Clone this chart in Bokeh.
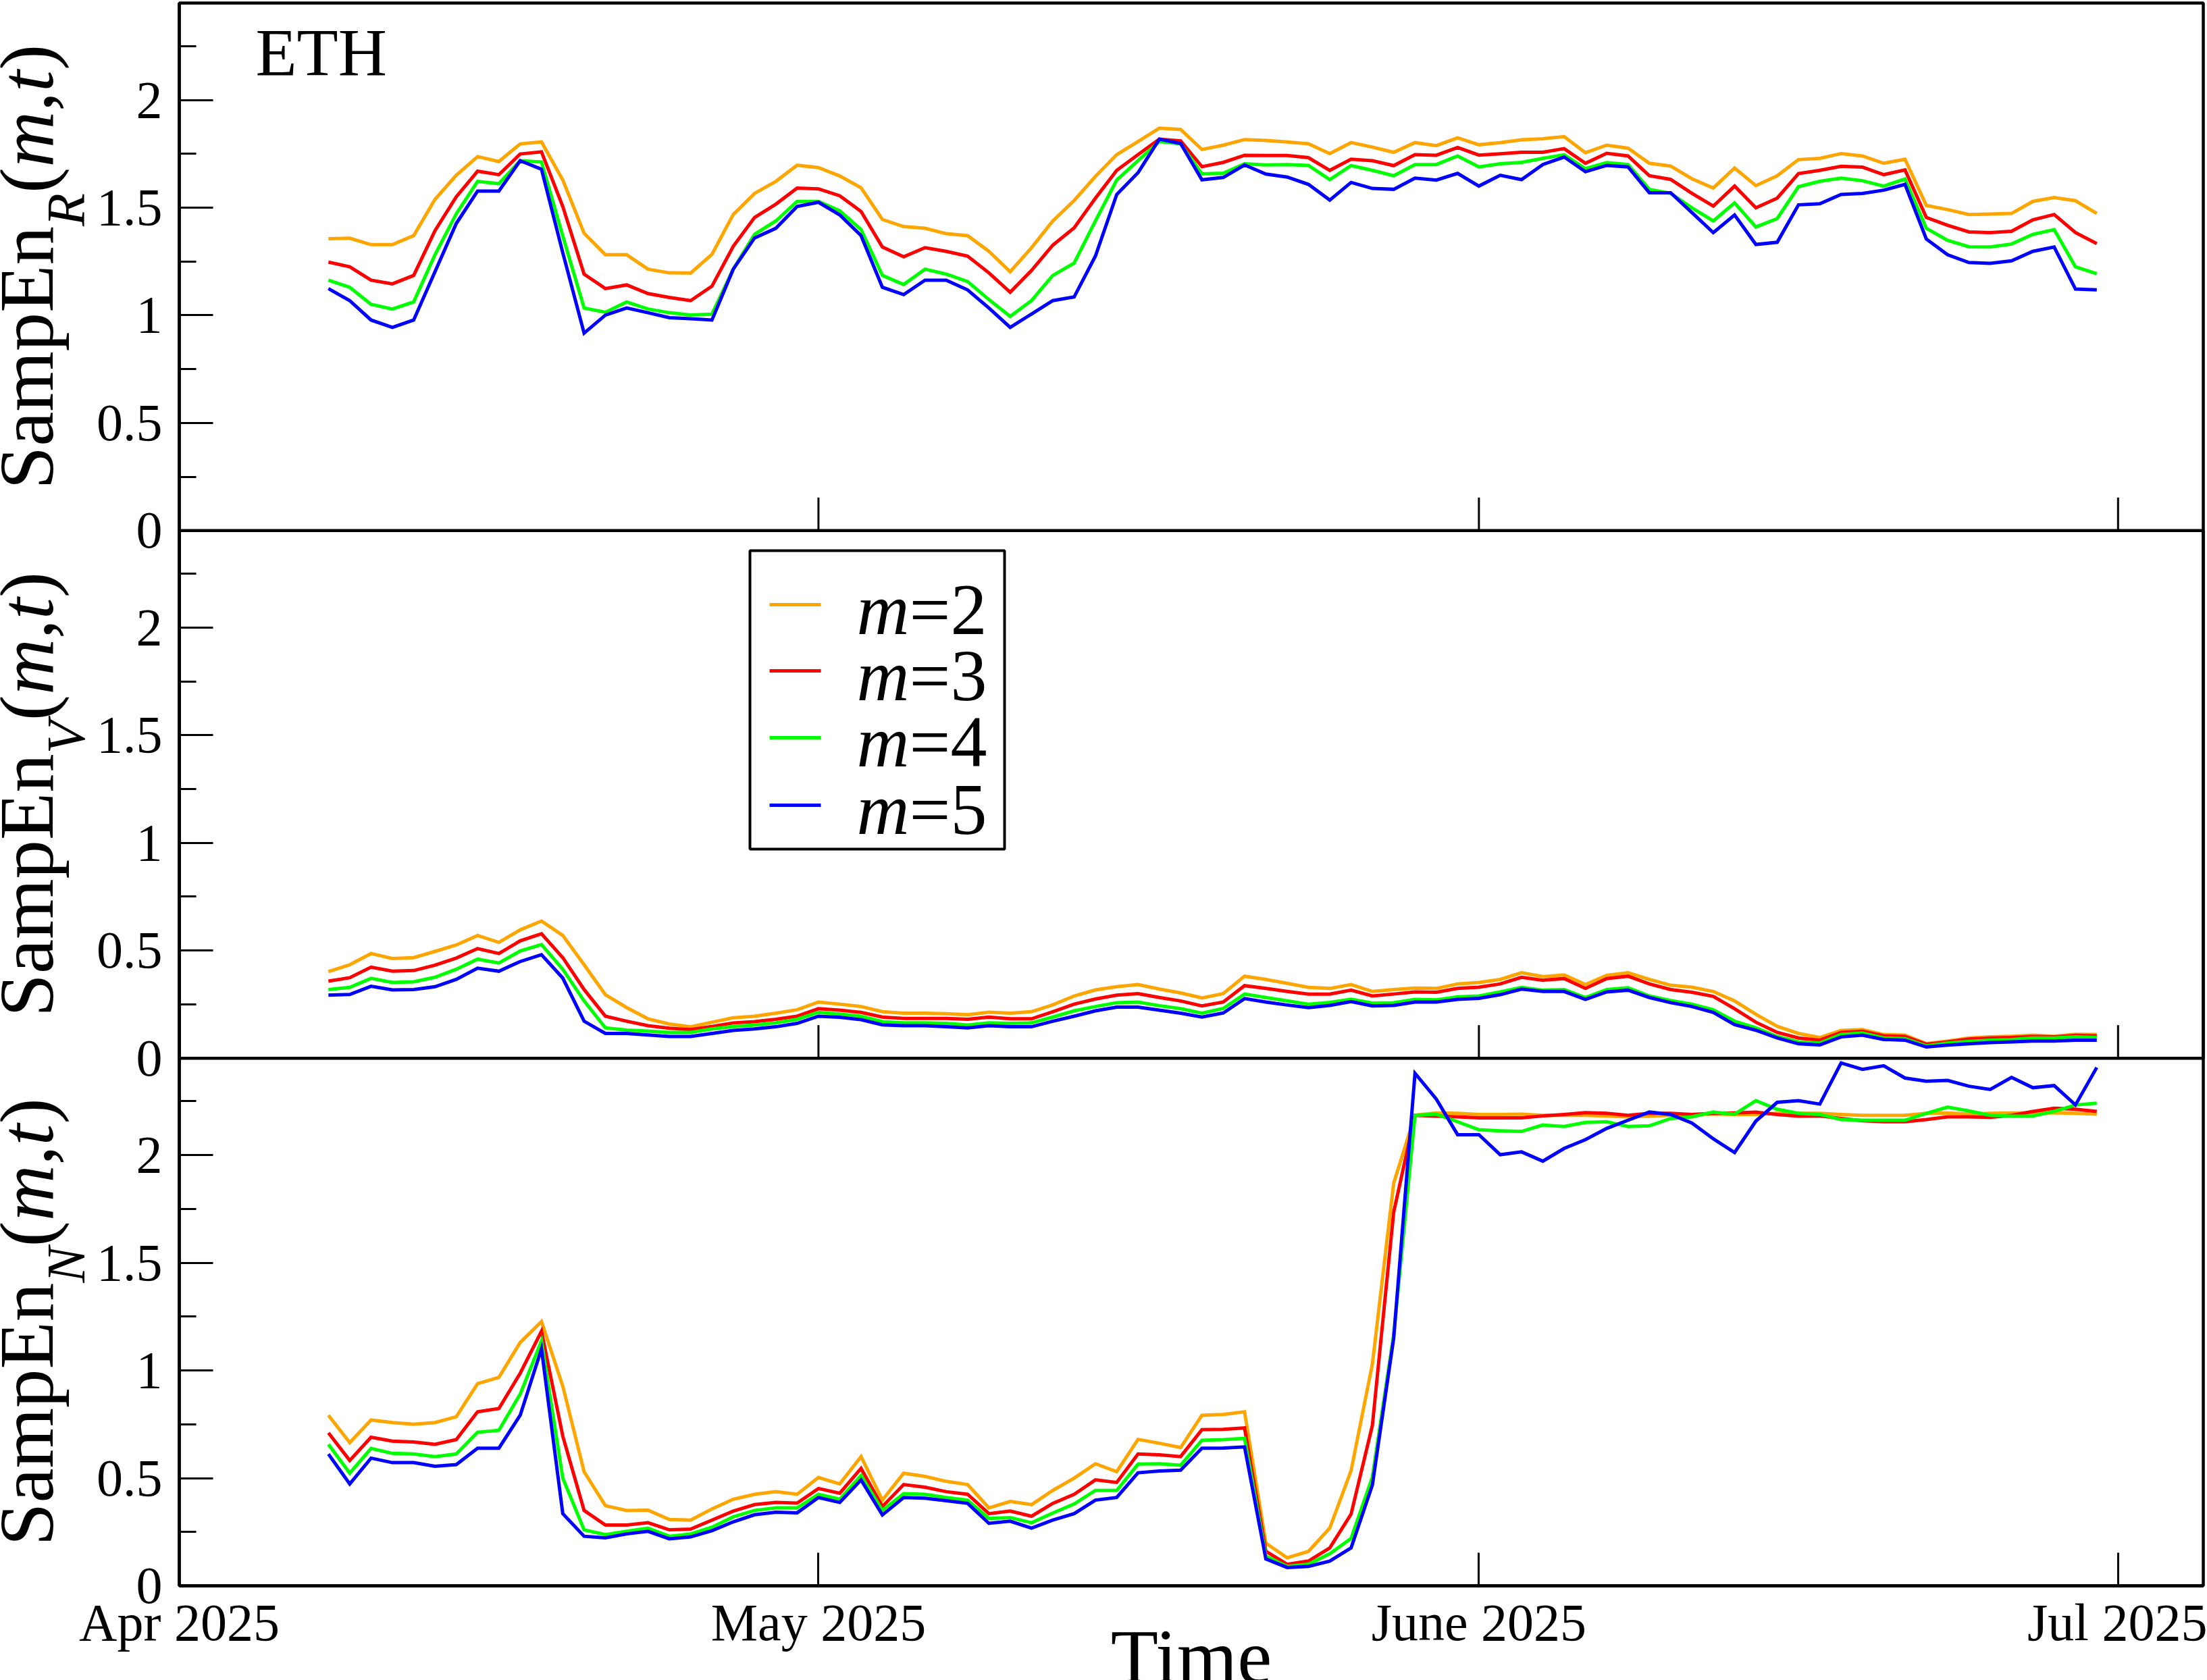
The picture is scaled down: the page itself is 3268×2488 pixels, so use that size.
import math
from datetime import datetime, timedelta

import pandas as pd
from bokeh.plotting import figure
from bokeh.models import (Range1d, FixedTicker, Label, BoxAnnotation, Arrow)
from bokeh.embed import file_html
from bokeh.resources import INLINE

# ---------------------------------------------------------------- data
dates = pd.date_range("2025-04-08", "2025-06-30", freq="D")

month_ticks = [datetime(2025, 4, 1), datetime(2025, 5, 1), datetime(2025, 6, 1), datetime(2025, 7, 1)]
month_labels = ["Apr 2025", "May 2025", "June 2025", "Jul 2025"]
x_start, x_end = datetime(2025, 4, 1), datetime(2025, 7, 5)

y_major = [0, 0.5, 1, 1.5, 2]
y_major_labels = ["0", "0.5", "1", "1.5", "2"]
y_minor = [0.25, 0.75, 1.25, 1.75, 2.25]

series_names = ["m=2", "m=3", "m=4", "m=5"]
series_colors = ["#FFA500", "#FF0000", "#00FF00", "#0000FF"]

# SampEn of returns
R_m2 = [1.356, 1.358, 1.328, 1.328, 1.370, 1.538, 1.650, 1.737, 1.714, 1.796,
        1.805, 1.628, 1.381, 1.281, 1.281, 1.214, 1.197, 1.196, 1.283, 1.468,
        1.566, 1.622, 1.697, 1.686, 1.647, 1.592, 1.445, 1.412, 1.404, 1.379,
        1.370, 1.297, 1.202, 1.314, 1.438, 1.533, 1.645, 1.746, 1.807, 1.869,
        1.863, 1.770, 1.790, 1.816, 1.812, 1.805, 1.796, 1.751, 1.802, 1.781,
        1.757, 1.802, 1.788, 1.824, 1.792, 1.802, 1.815, 1.820, 1.830, 1.755,
        1.790, 1.776, 1.706, 1.693, 1.634, 1.591, 1.684, 1.602, 1.648, 1.723,
        1.729, 1.751, 1.740, 1.706, 1.725, 1.510, 1.491, 1.468, 1.470, 1.473,
        1.529, 1.547, 1.532, 1.473]
R_m3 = [1.247, 1.225, 1.163, 1.146, 1.185, 1.393, 1.550, 1.669, 1.653, 1.749,
        1.759, 1.505, 1.191, 1.124, 1.141, 1.101, 1.083, 1.068, 1.135, 1.320,
        1.454, 1.516, 1.591, 1.587, 1.555, 1.482, 1.317, 1.272, 1.314, 1.297,
        1.275, 1.197, 1.107, 1.208, 1.326, 1.406, 1.544, 1.673, 1.746, 1.818,
        1.810, 1.690, 1.710, 1.743, 1.742, 1.742, 1.732, 1.673, 1.725, 1.718,
        1.695, 1.746, 1.743, 1.779, 1.744, 1.750, 1.757, 1.757, 1.774, 1.706,
        1.752, 1.740, 1.648, 1.631, 1.566, 1.507, 1.600, 1.499, 1.544, 1.658,
        1.673, 1.692, 1.688, 1.653, 1.675, 1.454, 1.418, 1.387, 1.384, 1.390,
        1.443, 1.468, 1.384, 1.333]
R_m4 = [1.163, 1.130, 1.051, 1.029, 1.062, 1.281, 1.471, 1.622, 1.611, 1.718,
        1.712, 1.368, 1.034, 1.014, 1.062, 1.029, 1.012, 1.001, 1.005, 1.214,
        1.376, 1.438, 1.529, 1.529, 1.485, 1.398, 1.185, 1.143, 1.214, 1.191,
        1.157, 1.073, 0.995, 1.068, 1.185, 1.242, 1.438, 1.628, 1.718, 1.807,
        1.796, 1.657, 1.660, 1.704, 1.698, 1.700, 1.696, 1.630, 1.695, 1.673,
        1.648, 1.700, 1.700, 1.740, 1.689, 1.704, 1.710, 1.729, 1.746, 1.681,
        1.709, 1.700, 1.585, 1.566, 1.499, 1.438, 1.522, 1.410, 1.449, 1.597,
        1.622, 1.637, 1.625, 1.600, 1.633, 1.404, 1.348, 1.318, 1.317, 1.331,
        1.376, 1.398, 1.225, 1.193]
R_m5 = [1.124, 1.068, 0.978, 0.944, 0.978, 1.202, 1.426, 1.577, 1.577, 1.718,
        1.678, 1.290, 0.917, 1.001, 1.034, 1.012, 0.989, 0.984, 0.978, 1.214,
        1.359, 1.404, 1.505, 1.525, 1.466, 1.370, 1.130, 1.096, 1.163, 1.163,
        1.118, 1.034, 0.944, 1.006, 1.068, 1.085, 1.275, 1.561, 1.662, 1.818,
        1.798, 1.629, 1.640, 1.698, 1.656, 1.642, 1.608, 1.535, 1.617, 1.589,
        1.585, 1.637, 1.628, 1.659, 1.600, 1.650, 1.630, 1.700, 1.735, 1.667,
        1.696, 1.689, 1.569, 1.569, 1.477, 1.384, 1.466, 1.329, 1.339, 1.513,
        1.518, 1.561, 1.566, 1.581, 1.608, 1.354, 1.281, 1.245, 1.241, 1.253,
        1.297, 1.317, 1.122, 1.118]

# SampEn of volume
V_m2 = [0.402, 0.434, 0.486, 0.463, 0.467, 0.496, 0.526, 0.570, 0.538, 0.596,
        0.637, 0.570, 0.434, 0.295, 0.235, 0.183, 0.159, 0.146, 0.167, 0.188,
        0.195, 0.209, 0.225, 0.261, 0.251, 0.240, 0.216, 0.209, 0.209, 0.207,
        0.202, 0.214, 0.209, 0.216, 0.248, 0.289, 0.317, 0.332, 0.342, 0.321,
        0.303, 0.280, 0.300, 0.381, 0.366, 0.348, 0.329, 0.324, 0.342, 0.310,
        0.319, 0.326, 0.324, 0.345, 0.352, 0.366, 0.397, 0.379, 0.387, 0.342,
        0.385, 0.397, 0.366, 0.339, 0.330, 0.310, 0.266, 0.204, 0.148, 0.115,
        0.096, 0.129, 0.133, 0.110, 0.107, 0.068, 0.080, 0.094, 0.099, 0.102,
        0.107, 0.102, 0.111, 0.110]
V_m3 = [0.358, 0.374, 0.423, 0.404, 0.407, 0.432, 0.465, 0.509, 0.486, 0.545,
        0.578, 0.467, 0.319, 0.195, 0.172, 0.151, 0.139, 0.133, 0.147, 0.164,
        0.170, 0.181, 0.195, 0.230, 0.223, 0.213, 0.191, 0.185, 0.185, 0.185,
        0.181, 0.191, 0.183, 0.183, 0.216, 0.251, 0.275, 0.293, 0.300, 0.282,
        0.266, 0.243, 0.261, 0.337, 0.324, 0.310, 0.298, 0.298, 0.316, 0.289,
        0.298, 0.308, 0.306, 0.324, 0.330, 0.345, 0.376, 0.362, 0.370, 0.324,
        0.370, 0.381, 0.345, 0.319, 0.306, 0.287, 0.230, 0.167, 0.120, 0.094,
        0.084, 0.120, 0.125, 0.104, 0.101, 0.065, 0.076, 0.089, 0.094, 0.096,
        0.101, 0.099, 0.106, 0.104]
V_m4 = [0.319, 0.329, 0.371, 0.352, 0.355, 0.376, 0.413, 0.460, 0.442, 0.498,
        0.528, 0.413, 0.266, 0.141, 0.131, 0.126, 0.120, 0.120, 0.136, 0.147,
        0.154, 0.164, 0.181, 0.213, 0.205, 0.195, 0.170, 0.164, 0.164, 0.162,
        0.154, 0.164, 0.162, 0.164, 0.191, 0.220, 0.240, 0.258, 0.261, 0.244,
        0.230, 0.209, 0.231, 0.298, 0.282, 0.266, 0.251, 0.259, 0.274, 0.256,
        0.258, 0.273, 0.271, 0.285, 0.289, 0.308, 0.329, 0.316, 0.319, 0.282,
        0.319, 0.327, 0.289, 0.268, 0.251, 0.225, 0.172, 0.141, 0.101, 0.076,
        0.070, 0.110, 0.117, 0.094, 0.091, 0.057, 0.070, 0.078, 0.084, 0.087,
        0.094, 0.094, 0.099, 0.096]
V_m5 = [0.293, 0.296, 0.334, 0.317, 0.319, 0.332, 0.366, 0.418, 0.404, 0.449,
        0.481, 0.372, 0.172, 0.115, 0.115, 0.108, 0.101, 0.101, 0.115, 0.129,
        0.136, 0.146, 0.162, 0.195, 0.190, 0.179, 0.155, 0.151, 0.151, 0.146,
        0.141, 0.151, 0.146, 0.146, 0.172, 0.195, 0.220, 0.237, 0.237, 0.223,
        0.209, 0.191, 0.210, 0.277, 0.261, 0.247, 0.235, 0.245, 0.263, 0.243,
        0.245, 0.261, 0.261, 0.273, 0.278, 0.295, 0.321, 0.310, 0.310, 0.273,
        0.308, 0.316, 0.282, 0.258, 0.240, 0.213, 0.156, 0.130, 0.094, 0.067,
        0.062, 0.099, 0.107, 0.087, 0.084, 0.052, 0.061, 0.067, 0.073, 0.076,
        0.080, 0.080, 0.084, 0.084]

# SampEn of number of trades
N_m2 = [0.792, 0.665, 0.770, 0.758, 0.750, 0.758, 0.785, 0.939, 0.968, 1.130,
        1.227, 0.927, 0.530, 0.372, 0.350, 0.351, 0.308, 0.305, 0.357, 0.402,
        0.425, 0.437, 0.425, 0.503, 0.473, 0.600, 0.398, 0.523, 0.508, 0.485,
        0.470, 0.362, 0.392, 0.377, 0.443, 0.500, 0.567, 0.530, 0.680, 0.662,
        0.642, 0.792, 0.796, 0.808, 0.198, 0.130, 0.160, 0.268, 0.535, 1.030,
        1.870, 2.185, 2.196, 2.194, 2.189, 2.189, 2.190, 2.185, 2.185, 2.185,
        2.182, 2.178, 2.181, 2.185, 2.189, 2.190, 2.189, 2.189, 2.194, 2.194,
        2.194, 2.189, 2.185, 2.185, 2.185, 2.194, 2.196, 2.190, 2.194, 2.196,
        2.196, 2.196, 2.194, 2.190]
N_m3 = [0.710, 0.582, 0.690, 0.672, 0.668, 0.657, 0.679, 0.808, 0.823, 0.987,
        1.182, 0.695, 0.350, 0.282, 0.282, 0.293, 0.260, 0.263, 0.305, 0.347,
        0.377, 0.387, 0.384, 0.452, 0.430, 0.545, 0.368, 0.470, 0.458, 0.437,
        0.425, 0.335, 0.347, 0.323, 0.383, 0.425, 0.492, 0.480, 0.612, 0.608,
        0.600, 0.725, 0.727, 0.733, 0.160, 0.100, 0.115, 0.176, 0.333, 0.745,
        1.735, 2.185, 2.181, 2.178, 2.173, 2.173, 2.173, 2.182, 2.189, 2.197,
        2.194, 2.185, 2.194, 2.194, 2.189, 2.194, 2.196, 2.200, 2.189, 2.181,
        2.182, 2.170, 2.160, 2.155, 2.155, 2.165, 2.178, 2.178, 2.175, 2.185,
        2.203, 2.218, 2.213, 2.203]
N_m4 = [0.657, 0.523, 0.638, 0.615, 0.612, 0.600, 0.612, 0.713, 0.722, 0.890,
        1.137, 0.500, 0.260, 0.238, 0.253, 0.268, 0.230, 0.241, 0.272, 0.320,
        0.350, 0.362, 0.362, 0.425, 0.402, 0.512, 0.350, 0.428, 0.425, 0.410,
        0.398, 0.313, 0.317, 0.293, 0.338, 0.380, 0.443, 0.443, 0.565, 0.567,
        0.560, 0.676, 0.679, 0.685, 0.138, 0.090, 0.100, 0.149, 0.220, 0.505,
        1.165, 2.185, 2.190, 2.155, 2.118, 2.113, 2.110, 2.140, 2.133, 2.152,
        2.155, 2.133, 2.136, 2.170, 2.178, 2.200, 2.190, 2.253, 2.213, 2.194,
        2.189, 2.165, 2.162, 2.162, 2.162, 2.194, 2.223, 2.205, 2.185, 2.181,
        2.182, 2.203, 2.233, 2.241]
N_m5 = [0.612, 0.473, 0.593, 0.572, 0.572, 0.555, 0.563, 0.639, 0.639, 0.792,
        1.100, 0.335, 0.230, 0.223, 0.241, 0.253, 0.218, 0.227, 0.256, 0.297,
        0.330, 0.342, 0.339, 0.410, 0.387, 0.492, 0.329, 0.410, 0.407, 0.395,
        0.383, 0.290, 0.300, 0.268, 0.305, 0.335, 0.398, 0.410, 0.525, 0.533,
        0.537, 0.639, 0.640, 0.645, 0.125, 0.085, 0.090, 0.115, 0.176, 0.468,
        1.150, 2.380, 2.260, 2.095, 2.095, 2.002, 2.015, 1.972, 2.031, 2.072,
        2.124, 2.162, 2.200, 2.189, 2.149, 2.076, 2.012, 2.158, 2.245, 2.253,
        2.237, 2.428, 2.398, 2.415, 2.358, 2.343, 2.347, 2.320, 2.305, 2.361,
        2.313, 2.323, 2.233, 2.407]

panels = [
    ("R", [R_m2, R_m3, R_m4, R_m5]),   # top
    ("V", [V_m2, V_m3, V_m4, V_m5]),   # middle
    ("N", [N_m2, N_m3, N_m4, N_m5]),   # bottom
]

# ---------------------------------------------------------------- geometry
# The frame covers the whole canvas; the boxed plot region sits inside it
# and the axes are pinned to its left and bottom edges.
W, HGT = 3268, 2488
BOX_L, BOX_R, BOX_T, BOX_B = 265, 3262, 4, 2348          # pixel edges of the boxed region
YMAX = 2.45                                             # height of one panel in data units
n_panels = len(panels)
PX_PER_UNIT = (BOX_B - BOX_T) / (n_panels * YMAX)
span_days = (x_end - x_start).total_seconds() / 86400
PX_PER_DAY = (BOX_R - BOX_L) / span_days
FONT = "Liberation Serif"
LW = 4.5
DROP = 0.35        # how far below its anchor an "alphabetic" label's baseline lands, in em

x_lo = x_start - timedelta(days=BOX_L / PX_PER_DAY)
x_hi = x_end + timedelta(days=(W - BOX_R) / PX_PER_DAY)
pad_lo = (HGT - BOX_B) / PX_PER_UNIT
pad_hi = BOX_T / PX_PER_UNIT

p = figure(width=W, height=HGT, x_axis_type="datetime",
           x_range=Range1d(x_lo, x_hi),
           y_range=Range1d(-pad_lo, n_panels * YMAX + pad_hi),
           output_backend="svg", toolbar_location=None,
           min_border=0, min_border_left=0, min_border_right=0,
           min_border_top=0, min_border_bottom=0)
p.grid.visible = False
p.background_fill_color = "white"
p.border_fill_color = "white"
p.outline_line_color = None

# each panel gets its own y scale, stacked bottom-to-top
for k, (key, series) in enumerate(panels):
    below = n_panels - 1 - k
    above = k
    p.extra_y_ranges[key] = Range1d(-below * YMAX - pad_lo, (1 + above) * YMAX + pad_hi)
    for vals, col in zip(series, series_colors):
        p.line(x=dates, y=vals, y_range_name=key, line_color=col,
               line_width=5, line_join="miter")

# ---------------------------------------------------------------- y axis
ticks, minors, overrides = [], [], {}
for k in range(n_panels):
    off = (n_panels - 1 - k) * YMAX
    for v, lab in zip(y_major, y_major_labels):
        t = off + v
        ticks.append(t)
        overrides[t] = lab
    minors.extend(off + v for v in y_minor)

start_ms = int(pd.Timestamp(x_start).value // 10**6)
end_ms = int(pd.Timestamp(x_end).value // 10**6)

yax = p.yaxis[0]
yax.fixed_location = start_ms
yax.bounds = (0, n_panels * YMAX)
yax.ticker = FixedTicker(ticks=ticks, minor_ticks=minors)
yax.major_label_overrides = overrides
yax.major_tick_in = 50
yax.major_tick_out = 0
yax.minor_tick_in = 25
yax.minor_tick_out = 0
yax.major_tick_line_width = 3
yax.minor_tick_line_width = 3
yax.axis_line_width = LW
yax.major_label_text_font = FONT
yax.major_label_text_font_size = "78px"
yax.major_label_text_color = "black"
yax.major_label_standoff = 25

# ---------------------------------------------------------------- x axis
tick_ms = [int(pd.Timestamp(d).value // 10**6) for d in month_ticks]
xax = p.xaxis[0]
xax.fixed_location = 0
xax.bounds = (start_ms, end_ms)
xax.ticker = FixedTicker(ticks=tick_ms, minor_ticks=[])
xax.major_label_overrides = dict(zip(tick_ms, month_labels))
xax.major_tick_in = 49
xax.major_tick_out = 0
xax.major_tick_line_width = 3
xax.axis_line_width = LW
xax.major_label_text_font = FONT
xax.major_label_text_font_size = "78px"
xax.major_label_text_color = "black"
xax.major_label_standoff = 10

# outer box and panel separators
p.add_layout(BoxAnnotation(left=x_start, right=x_end, bottom=0, top=n_panels * YMAX,
                           fill_color=None, fill_alpha=0, line_color="black",
                           line_width=LW, line_alpha=1.0))
p.add_layout(BoxAnnotation(left=x_start, right=x_end, bottom=YMAX, top=2 * YMAX,
                           fill_color=None, fill_alpha=0, line_color="black",
                           line_width=LW, line_alpha=1.0))

# inward month ticks at the foot of the upper panels
tick_len = 49 / PX_PER_UNIT
for j in range(1, n_panels):
    yb = j * YMAX
    p.segment(x0=month_ticks, y0=[yb] * len(month_ticks),
              x1=month_ticks, y1=[yb + tick_len] * len(month_ticks),
              line_color="black", line_width=3)

# ---------------------------------------------------------------- text
ADV = {("normal", c): w for c, w in
       {"S": .556, "a": .444, "m": .778, "p": .5, "E": .611, "n": .5,
        "(": .333, ")": .333, ",": .25}.items()}
ADV.update({("italic", c): w for c, w in
            {"R": .611, "V": .611, "N": .667, "m": .722, "t": .278}.items()})


def text_width(txt, style, size):
    return sum(ADV[(style, c)] for c in txt) * size


def sy(py):
    """pixel row measured from the top -> screen y measured from the bottom"""
    return HGT - py


BIG, SUB = 115, 80
BASE_X = 79 - DROP * BIG
SUB_X = 125 - DROP * SUB
for k, (key, _) in enumerate(panels):
    center = sy(BOX_T + (k + 0.5) * YMAX * PX_PER_UNIT)
    pieces = [("SampEn", "normal", BIG, BASE_X), (key, "italic", SUB, SUB_X),
              ("(", "normal", BIG, BASE_X), ("m", "italic", BIG, BASE_X),
              (",", "normal", BIG, BASE_X), ("t", "italic", BIG, BASE_X),
              (")", "normal", BIG, BASE_X)]
    total = sum(text_width(t, s, z) for t, s, z, _ in pieces)
    y = center - total / 2
    for t, s, z, bx in pieces:
        p.add_layout(Label(x=bx, y=y, x_units="screen", y_units="screen",
                           text=t, angle=math.pi / 2, text_font=FONT,
                           text_font_style=s, text_font_size=f"{z}px",
                           text_color="black", text_align="left",
                           text_baseline="alphabetic"))
        y += text_width(t, s, z)

p.add_layout(Label(x=378, y=sy(112 - DROP * 100), x_units="screen", y_units="screen",
                   text="ETH", text_font=FONT, text_font_size="100px",
                   text_color="black", text_baseline="alphabetic"))

p.add_layout(Label(x=(BOX_L + BOX_R) / 2, y=sy(2487 - 34), x_units="screen",
                   y_units="screen", text="Time", text_font=FONT,
                   text_font_size="115px", text_color="black", text_align="center",
                   text_baseline="alphabetic"))

# ---------------------------------------------------------------- legend
p.add_layout(BoxAnnotation(left=1110, right=1487, bottom=sy(1257), top=sy(815),
                           left_units="screen", right_units="screen",
                           bottom_units="screen", top_units="screen",
                           fill_color="white", fill_alpha=1.0,
                           line_color="black", line_width=4, line_alpha=1.0))
LEG_FS = 108
row_line_y = [895, 993, 1092, 1192]
row_text_y = [902, 1000, 1098, 1198]
for name, col, ly, ty in zip(series_names, series_colors, row_line_y, row_text_y):
    p.add_layout(Arrow(end=None, start=None, x_start=1139, y_start=sy(ly),
                       x_end=1215, y_end=sy(ly),
                       start_units="screen", end_units="screen",
                       line_color=col, line_width=5))
    var, rest = name.split("=")
    p.add_layout(Label(x=1268, y=sy(ty), x_units="screen", y_units="screen", text=var,
                       text_font=FONT, text_font_style="italic",
                       text_font_size=f"{LEG_FS}px", text_color="black",
                       text_baseline="alphabetic"))
    p.add_layout(Label(x=1268 + text_width(var, "italic", LEG_FS), y=sy(ty),
                       x_units="screen", y_units="screen", text="=" + rest,
                       text_font=FONT, text_font_size=f"{LEG_FS}px",
                       text_color="black", text_baseline="alphabetic"))

open("out.html", "w").write(file_html(p, INLINE))
